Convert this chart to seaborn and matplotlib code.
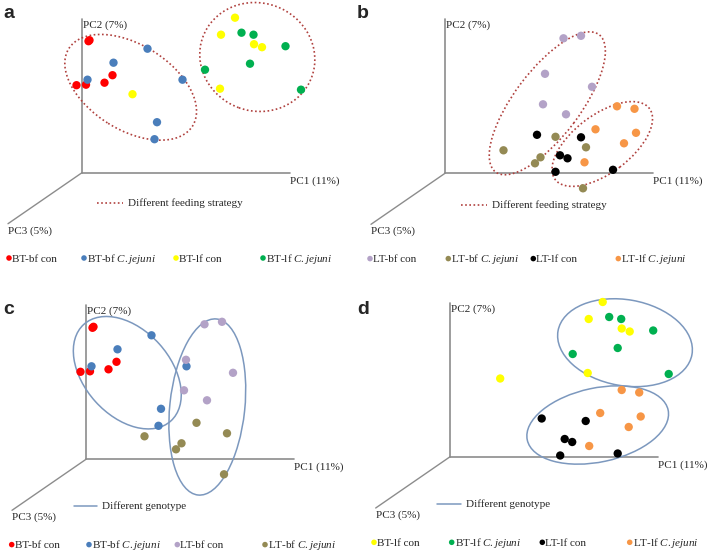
import numpy as np
import pandas as pd
import seaborn as sns
import matplotlib.pyplot as plt
from matplotlib.patches import Ellipse

sns.set_style('white')
plt.rcParams['font.family'] = ['Liberation Serif', 'DejaVu Serif']
plt.rcParams['mathtext.fontset'] = 'custom'
plt.rcParams['mathtext.rm'] = 'Liberation Serif'
plt.rcParams['mathtext.it'] = 'Liberation Serif:italic'

# PCoA scores (PC1, PC2), same units in every panel
groups = {
    'BT-bf con': ([6.5, 7.5, -5.5, 4, 22.5, 30.5], [131.5, 132.5, 87.5, 88, 90, 97.5]),
    'BT-bf C.jejuni': ([65.5, 31.5, 5.5, 100.5, 75, 72.5], [124, 110, 93, 93, 50.5, 33.5]),
    'BT-lf con': ([153, 139, 172, 180, 138, 50.5], [155, 138, 128.5, 125.5, 84, 78.5]),
    'BT-lf C.jejuni': ([159.5, 171.5, 203.5, 168, 123, 219], [140, 138, 126.5, 109, 103, 83]),
    'LT-bf con': ([118.5, 136, 100, 147, 98, 121], [135, 137.5, 99.5, 86.5, 69, 59]),
    'LT-bf C.jejuni': ([58.5, 110.5, 141, 95.5, 90, 138], [23, 36.5, 26, 16, 10, -15]),
    'LT-lf con': ([92, 136, 115, 122.5, 110.5, 168], [38.5, 36, 18, 15, 1.5, 3.5]),
    'LT-lf C.jejuni': ([172, 189.5, 150.5, 191, 179, 139.5], [67, 64.5, 44, 40.5, 30, 11]),
}
colors = {
    'BT-bf con': '#FF0000',
    'BT-bf C.jejuni': '#4A7EBB',
    'BT-lf con': '#FFFF00',
    'BT-lf C.jejuni': '#00B050',
    'LT-bf con': '#B3A2C7',
    'LT-bf C.jejuni': '#948A54',
    'LT-lf con': '#000000',
    'LT-lf C.jejuni': '#F79646',
}

rows = []
for g, (xs, ys) in groups.items():
    for x, y in zip(xs, ys):
        rows.append({'group': g, 'PC1': x, 'PC2': y})
df = pd.DataFrame(rows)

# panel: letter, box (px), origin (px), groups, ellipse style, ellipses, legend label, legend pos, bottom legend x
panels = [
    ('a', (0, 0, 354, 276), (82, 172.7),
     ['BT-bf con', 'BT-bf C.jejuni', 'BT-lf con', 'BT-lf C.jejuni'],
     'dotted', [((48.7, 85.4), 146, 85, -32), ((175.3, 115.7), 116, 108, -20)],
     'Different feeding strategy', (15, 41, -30.3), [-73, 2, 94, 181]),
    ('b', (354, 0, 709, 276), (445, 173.3),
     ['LT-bf con', 'LT-bf C.jejuni', 'LT-lf con', 'LT-lf C.jejuni'],
     'dotted', [((102.3, 70), 172, 66, 53), ((157.3, 29.3), 118, 58, 37)],
     'Different feeding strategy', (16.3, 42.3, -31.7), [-75, 3.3, 88.3, 173.3]),
    ('c', (0, 276, 354, 552), (86, 459.3),
     ['BT-bf con', 'BT-bf C.jejuni', 'LT-bf con', 'LT-bf C.jejuni'],
     'solid', [((41.3, 86.6), 130, 86, -48), ((121.3, 52.3), 75, 177, -6)],
     'Different genotype', (-12, 10.7, -46.7), [-74.3, 3, 91.3, 179]),
    ('d', (354, 276, 709, 552), (449.7, 457),
     ['BT-lf con', 'BT-lf C.jejuni', 'LT-lf con', 'LT-lf C.jejuni'],
     'solid', [((175.3, 114.3), 136, 86, -10), ((148, 32), 144, 74, 12)],
     'Different genotype', (-12.4, 11, -47.3), [-75.7, 2, 92.6, 180]),
]

W, H = 709, 552
fs = 8
fig = plt.figure(figsize=(W / 100, H / 100), dpi=100)
axis_col = '#8C8C8C'
dotted_col = '#B0413E'
solid_col = '#7C98BE'

for letter, box, origin, grp, style, ells, lab, lpos, legx in panels:
    x0, y0, x1, y1 = box
    ox, oy = origin
    ax = fig.add_axes([x0 / W, (H - y1) / H, (x1 - x0) / W, (y1 - y0) / H])
    ax.set_xlim(x0 - ox, x1 - ox)
    ax.set_ylim(oy - y1, oy - y0)
    ax.axis('off')

    # pseudo 3D axes
    ax.plot([0, 0], [0, 154], color=axis_col, lw=1.2, zorder=1)
    ax.plot([0, 208], [0, 0], color=axis_col, lw=1.2, zorder=1)
    ax.plot([0, -74], [0, -51], color=axis_col, lw=1, zorder=1)
    ax.text(1, 148, 'PC2 (7%)', fontsize=fs, ha='left', va='center')
    ax.text(208, -8, 'PC1 (11%)', fontsize=fs, ha='left', va='center')
    ax.text(-74, -58, 'PC3 (5%)', fontsize=fs, ha='left', va='center')

    sub = df[df['group'].isin(grp)]
    sns.scatterplot(data=sub, x='PC1', y='PC2', hue='group', palette=colors,
                    s=36, edgecolor='none', legend=False, ax=ax, zorder=3)

    if style == 'dotted':
        ec, ls, lw = dotted_col, (0, (1, 1.5)), 1.2
    else:
        ec, ls, lw = solid_col, '-', 1.1
    for c, w, h, ang in ells:
        ax.add_patch(Ellipse(c, w, h, angle=ang, fill=False, edgecolor=ec,
                             linestyle=ls, lw=lw, zorder=2))

    lx0, lx1, ly = lpos
    ax.plot([lx0, lx1], [ly, ly], color=ec, linestyle=ls, lw=lw)
    ax.text(lx1 + 5, ly, lab, fontsize=fs, ha='left', va='center')

    # bottom legend
    ly2 = -85.3
    for g, mx in zip(grp, legx):
        ax.scatter([mx], [ly2], s=16, color=colors[g], edgecolor='none')
        label = g.replace('C.jejuni', r'$\mathit{C.jejuni}$')
        ax.text(mx + 3, ly2 - 3.5, label, fontsize=fs, ha='left', va='baseline')

    ax.text(x0 - ox + 3, oy - y0 - 13 if letter in 'ab' else oy - y0 - 33,
            letter, fontsize=14, fontweight='bold', family='Liberation Sans',
            ha='left', va='center')

fig.savefig('out.png', dpi=100)
